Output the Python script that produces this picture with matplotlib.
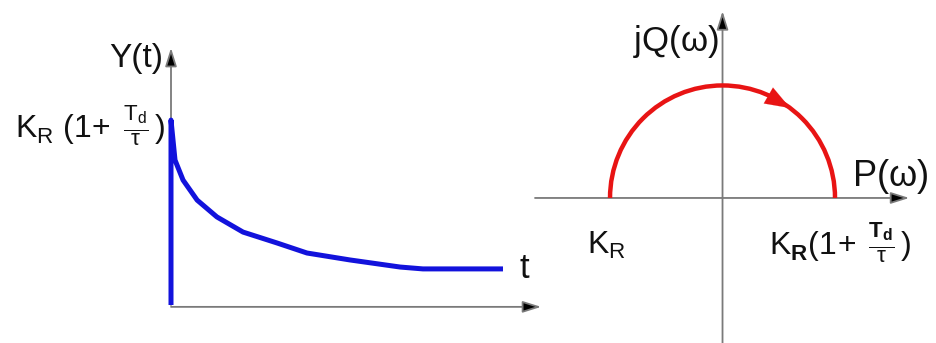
import matplotlib
matplotlib.use("Agg")
import matplotlib.pyplot as plt
from matplotlib.patches import Arc
import numpy as np

plt.rcParams['font.family'] = ['Liberation Sans', 'DejaVu Sans']
plt.rcParams['mathtext.fontset'] = 'custom'
plt.rcParams['mathtext.rm'] = 'Liberation Sans'
plt.rcParams['mathtext.it'] = 'Liberation Sans'
plt.rcParams['mathtext.bf'] = 'Liberation Sans:bold'

# step response of the PD controller
t_vals = [0.0, 0.0, 0.12, 0.36, 0.78, 1.37, 2.15, 3.16, 4.06, 5.34, 6.84, 7.52, 9.91]
y_vals = [0.0, 9.89, 7.75, 6.68, 5.61, 4.71, 3.90, 3.32, 2.78, 2.41, 2.03, 1.93, 1.93]

# Nyquist semicircle end points on the P axis
p_start = -1.0   # K_R
p_end = 1.0      # K_R(1 + Td/tau)

blue = '#1212dc'
red = '#e81414'
axis_col = '#7a7a7a'
txt = '#111111'

fig = plt.figure(figsize=(9.37, 3.43), dpi=100)


def axis_arrow(ax, start, end):
    ax.annotate('', xy=end, xytext=start, zorder=2,
                arrowprops=dict(arrowstyle='-|>,head_length=0.7,head_width=0.22',
                                ec=axis_col, fc='black', lw=1.3, mutation_scale=16,
                                shrinkA=0, shrinkB=0), annotation_clip=False)


# ---- left: step response ----
ax1 = fig.add_axes([171/937, 38/343, 368.5/937, 254.3/343])
ax1.set_xlim(0, 11.0)
ax1.set_ylim(0, 13.6)
ax1.axis('off')
ax1.plot(t_vals, y_vals, color=blue, lw=3.6, solid_capstyle='butt', solid_joinstyle='round',
         zorder=5, clip_on=False)
axis_arrow(ax1, (0, 0), (0, 13.75))
axis_arrow(ax1, (0, -0.1), (11.05, -0.1))
ax1.text(-0.22, 13.2, 'Y(t)', ha='right', va='center', fontsize=24, color=txt)
ax1.text(-0.16, 9.6, r'$\mathrm{K}_\mathrm{R}\ (1\!+\;\frac{\mathrm{T}_\mathrm{d}}{\tau}\,)$',
         ha='right', va='center', fontsize=23, color=txt)
ax1.text(10.4, 1.95, 't', ha='left', va='center', fontsize=25, color=txt)

# ---- right: Nyquist plot ----
ax2 = fig.add_axes([535/937, 0, 372/937, 330/343])
ax2.set_xlim(-1.667, 1.64)
ax2.set_ylim(-1.289, 1.644)
ax2.axis('off')
cx = (p_start + p_end) / 2
r = (p_end - p_start) / 2
ax2.add_patch(Arc((cx, 0), 2*r, 2*r, theta1=0, theta2=180, color=red, lw=3.2, zorder=3))
ang = np.deg2rad(67)
ang2 = np.deg2rad(53)
ax2.annotate('', xy=(cx + r*np.cos(ang2), r*np.sin(ang2)), xytext=(cx + r*np.cos(ang), r*np.sin(ang)),
             arrowprops=dict(arrowstyle='-|>,head_length=0.9,head_width=0.33', color=red, lw=0.1,
                             mutation_scale=20, shrinkA=0, shrinkB=0), zorder=4)
axis_arrow(ax2, (-1.667, 0), (1.66, 0))
axis_arrow(ax2, (0, -1.35), (0, 1.66))
ax2.text(-0.03, 1.39, r'jQ($\omega$)', ha='right', va='center', fontsize=25, color=txt)
ax2.text(1.15, 0.19, r'P($\omega$)', ha='left', va='center', fontsize=26, color=txt)
ax2.text(p_start - 0.03, -0.42, r'$\mathrm{K}_\mathrm{R}$', ha='center', va='center', fontsize=23, color=txt)
ax2.text(p_end + 0.05, -0.40, r'$\mathrm{K}_\mathbf{R}(1\!+\;\frac{\mathbf{T}_\mathbf{d}}{\tau}\,)$',
         ha='center', va='center', fontsize=23, color=txt)

fig.savefig('out.png', dpi=100)
